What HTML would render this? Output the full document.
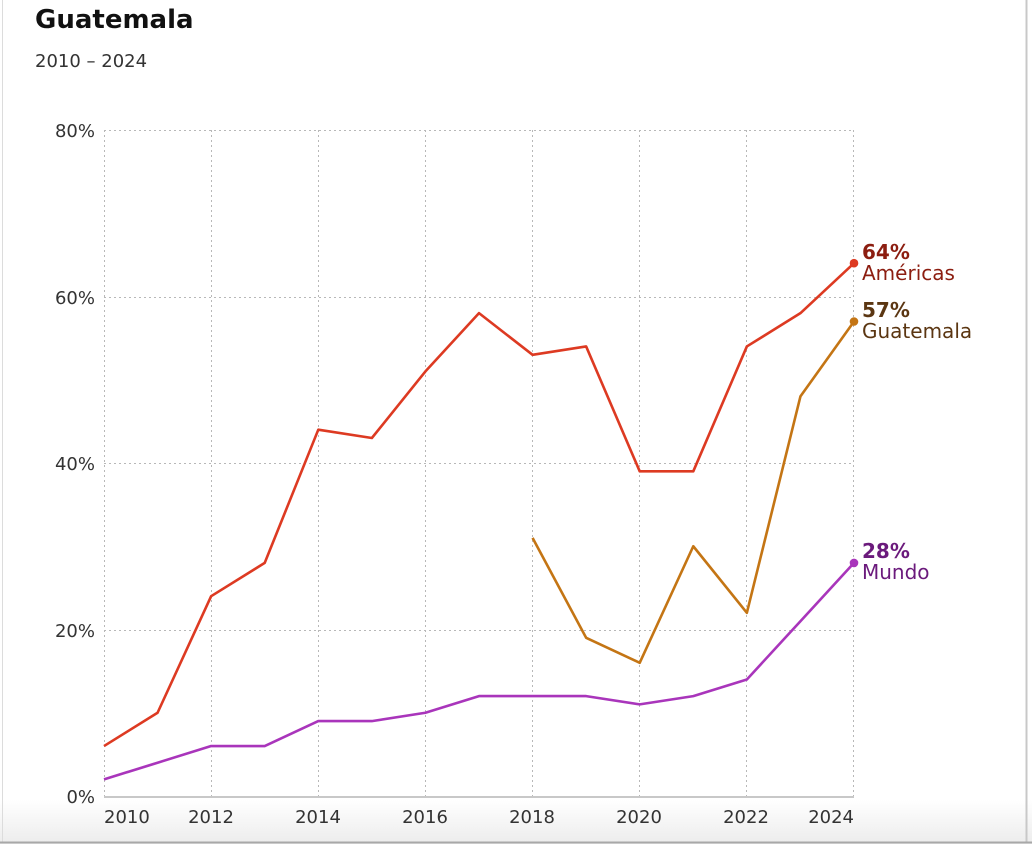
<!DOCTYPE html>
<html>
<head>
<meta charset="utf-8">
<style>
  html, body { margin:0; padding:0; }
  body { width:1032px; height:844px; overflow:hidden; background:#fff; position:relative; font-family:"DejaVu Sans","Liberation Sans",sans-serif; }
  .frame { position:absolute; left:0; top:0; width:1032px; height:844px; }
  .bottomfade { position:absolute; left:0; top:800px; width:1032px; height:44px; background:linear-gradient(to bottom, rgba(255,255,255,0), #ececec); }
</style>
</head>
<body>
<div class="bottomfade"></div>
<svg class="frame" width="1032" height="844" viewBox="0 0 1032 844" xmlns="http://www.w3.org/2000/svg">
  <!-- frame lines -->
  <line x1="2.5" y1="0" x2="2.5" y2="842" stroke="#dcdcdc" stroke-width="1"/>
  <line x1="1026.5" y1="0" x2="1026.5" y2="842" stroke="#c8c8c8" stroke-width="2"/>
  <line x1="0" y1="842.5" x2="1032" y2="842.5" stroke="#a8a8a8" stroke-width="2"/>

  <!-- title -->
  <text x="35" y="28" font-family="DejaVu Sans, sans-serif" font-weight="bold" font-size="26" fill="#111">Guatemala</text>
  <text x="35" y="67" font-family="DejaVu Sans, sans-serif" font-size="18" fill="#333">2010 – 2024</text>

  <!-- grid -->
  <g stroke="#b8b8b8" stroke-width="1" stroke-dasharray="2,3" fill="none">
    <line x1="104" y1="130.5" x2="854" y2="130.5"/>
    <line x1="104" y1="297.5" x2="854" y2="297.5"/>
    <line x1="104" y1="463.5" x2="854" y2="463.5"/>
    <line x1="104" y1="630.5" x2="854" y2="630.5"/>
    <line x1="104.5" y1="130" x2="104.5" y2="796"/>
    <line x1="211.5" y1="130" x2="211.5" y2="796"/>
    <line x1="318.5" y1="130" x2="318.5" y2="796"/>
    <line x1="425.5" y1="130" x2="425.5" y2="796"/>
    <line x1="532.5" y1="130" x2="532.5" y2="796"/>
    <line x1="639.5" y1="130" x2="639.5" y2="796"/>
    <line x1="746.5" y1="130" x2="746.5" y2="796"/>
    <line x1="853.5" y1="130" x2="853.5" y2="796"/>
  </g>
  <line x1="104" y1="797" x2="854" y2="797" stroke="#c8c8c8" stroke-width="2"/>

  <!-- y labels -->
  <g font-family="DejaVu Sans, sans-serif" font-size="18" fill="#333" text-anchor="end">
    <text x="95" y="137">80%</text>
    <text x="95" y="304">60%</text>
    <text x="95" y="470">40%</text>
    <text x="95" y="637">20%</text>
    <text x="95" y="803">0%</text>
  </g>
  <!-- x labels -->
  <g font-family="DejaVu Sans, sans-serif" font-size="18" fill="#333" text-anchor="middle">
    <text x="104" y="823" text-anchor="start">2010</text>
    <text x="211" y="823">2012</text>
    <text x="318" y="823">2014</text>
    <text x="425" y="823">2016</text>
    <text x="532" y="823">2018</text>
    <text x="639" y="823">2020</text>
    <text x="746" y="823">2022</text>
    <text x="854" y="823" text-anchor="end">2024</text>
  </g>

  <!-- series -->
  <polyline fill="none" stroke="#a935bb" stroke-width="2.6" stroke-linejoin="round"
    points="104,779.35 157.57,762.7 211.14,746.05 264.71,746.05 318.29,721.1 371.86,721.1 425.43,712.75 479,696.1 532.57,696.1 586.14,696.1 639.71,704.4 693.29,696.1 746.86,679.45 800.43,621.2 854,562.9"/>
  <polyline fill="none" stroke="#c47514" stroke-width="2.6" stroke-linejoin="round"
    points="532.57,537.9 586.14,637.8 639.71,662.8 693.29,546.25 746.86,612.85 800.43,396.4 854,321.5"/>
  <polyline fill="none" stroke="#dd3a22" stroke-width="2.6" stroke-linejoin="round"
    points="104,746.05 157.57,712.75 211.14,596.2 264.71,562.9 318.29,429.7 371.86,438 425.43,371.4 479,313.15 532.57,354.8 586.14,346.45 639.71,471.3 693.29,471.3 746.86,346.45 800.43,313.15 854,263.2"/>

  <circle cx="854" cy="263.2" r="4.3" fill="#dd3a22"/>
  <circle cx="854" cy="321.5" r="4.3" fill="#c47514"/>
  <circle cx="854" cy="562.9" r="4.3" fill="#a935bb"/>

  <!-- end labels -->
  <g font-family="DejaVu Sans, sans-serif">
    <text x="862" y="259" font-size="20" font-weight="bold" fill="#8c1d10">64%</text>
    <text x="862" y="280" font-size="20" fill="#8c1d10">Américas</text>
    <text x="862" y="317" font-size="20" font-weight="bold" fill="#5b3612">57%</text>
    <text x="862" y="338" font-size="20" fill="#5b3612">Guatemala</text>
    <text x="862" y="558" font-size="20" font-weight="bold" fill="#6b1a7c">28%</text>
    <text x="862" y="579" font-size="20" fill="#6b1a7c">Mundo</text>
  </g>
</svg>
</body>
</html>
